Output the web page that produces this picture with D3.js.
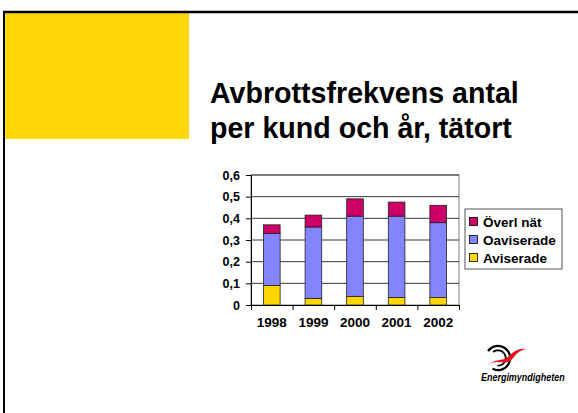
<!DOCTYPE html>
<html>
<head>
<meta charset="utf-8">
<script src="https://cdn.jsdelivr.net/npm/d3@7"></script>
<style>
  html, body { margin: 0; padding: 0; background: #fff; }
  svg { display: block; font-family: "Liberation Sans", Arial, sans-serif; }
</style>
</head>
<body>
<div id="chart"></div>
<script>
// data
const years = ["1998", "1999", "2000", "2001", "2002"];
const aviserade = [0.09, 0.03, 0.04, 0.035, 0.035];
const oaviserade = [0.24, 0.33, 0.37, 0.375, 0.345];
const overlNat = [0.04, 0.055, 0.08, 0.065, 0.08];
const seriesNames = ["Aviserade", "Oaviserade", "Överl nät"];
const seriesColors = ["#FFD700", "#8484FF", "#CC0066"];
const yTicks = [0, 0.1, 0.2, 0.3, 0.4, 0.5, 0.6];
const yTickLabels = ["0", "0,1", "0,2", "0,3", "0,4", "0,5", "0,6"];
const titleLines = ["Avbrottsfrekvens antal", "per kund och år, tätort"];

const W = 578, H = 413;
const plot = {left: 251, right: 459, top: 175, bottom: 305};

const svg = d3.select("#chart").append("svg")
  .attr("width", W)
  .attr("height", H);

// slide frame
svg.append("rect")
  .attr("x", 5).attr("y", 13)
  .attr("width", 184).attr("height", 126)
  .attr("fill", "#FFD80B");

svg.append("line")
  .attr("x1", 3).attr("x2", W)
  .attr("y1", 12).attr("y2", 12)
  .attr("stroke", "#000").attr("stroke-width", 2.5);
svg.append("line")
  .attr("x1", 4).attr("x2", 4)
  .attr("y1", 11).attr("y2", H)
  .attr("stroke", "#000").attr("stroke-width", 2);

// title
svg.append("g")
  .selectAll("text")
  .data(titleLines)
  .enter().append("text")
    .attr("x", 210)
    .attr("y", (d, i) => 103 + i * 35)
    .attr("font-size", 28.6)
    .attr("font-weight", "bold")
    .attr("fill", "#000")
    .text(d => d);

// scales
const x = d3.scaleBand()
  .domain(years)
  .range([plot.left, plot.right])
  .paddingInner(0.6)
  .paddingOuter(0.3);

const y = d3.scaleLinear()
  .domain([0, 0.6])
  .range([plot.bottom, plot.top]);

const rows = years.map((yr, i) => ({
  year: yr,
  Aviserade: aviserade[i],
  Oaviserade: oaviserade[i],
  "Överl nät": overlNat[i]
}));
const stacked = d3.stack().keys(seriesNames)(rows);

// plot area border + gridlines
svg.append("rect")
  .attr("x", plot.left).attr("y", plot.top)
  .attr("width", plot.right - plot.left)
  .attr("height", plot.bottom - plot.top)
  .attr("fill", "none")
  .attr("stroke", "#808080");

svg.append("g")
  .selectAll("line")
  .data(yTicks.slice(1))
  .enter().append("line")
    .attr("x1", plot.left).attr("x2", plot.right)
    .attr("y1", d => y(d)).attr("y2", d => y(d))
    .attr("stroke", "#3a3a3a")
    .attr("stroke-width", 1);

// bars
svg.append("g")
  .selectAll("g")
  .data(stacked)
  .enter().append("g")
    .attr("fill", (d, i) => seriesColors[i])
  .selectAll("rect")
  .data(d => d)
  .enter().append("rect")
    .attr("x", d => x(d.data.year))
    .attr("y", d => y(d[1]))
    .attr("width", x.bandwidth())
    .attr("height", d => y(d[0]) - y(d[1]))
    .attr("stroke", "#222")
    .attr("stroke-width", 0.8);

// y axis
const yAxis = d3.axisLeft(y)
  .tickValues(yTicks)
  .tickFormat((d, i) => yTickLabels[i])
  .tickSize(5)
  .tickPadding(6);

svg.append("g")
  .attr("transform", `translate(${plot.left},0)`)
  .call(yAxis)
  .call(g => g.selectAll("text")
    .attr("font-size", 12.5)
    .attr("font-weight", "bold")
    .attr("font-family", "Liberation Sans, Arial, sans-serif")
    .attr("fill", "#000"));

// x axis: labels, plus ticks at category boundaries
svg.append("g")
  .attr("transform", `translate(0,${plot.bottom})`)
  .call(d3.axisBottom(x).tickSize(0).tickPadding(12))
  .call(g => g.select(".domain").remove())
  .call(g => g.selectAll("text")
    .attr("font-size", 13.5)
    .attr("font-weight", "bold")
    .attr("font-family", "Liberation Sans, Arial, sans-serif")
    .attr("fill", "#000"));

const xb = d3.scaleLinear().domain([0, years.length]).range([plot.left, plot.right]);
svg.append("g")
  .attr("transform", `translate(0,${plot.bottom})`)
  .call(d3.axisBottom(xb)
    .tickValues(d3.range(years.length + 1))
    .tickFormat("")
    .tickSize(5)
    .tickSizeOuter(0));

// legend
const legend = svg.append("g").attr("transform", "translate(465,209)");
legend.append("rect")
  .attr("width", 97).attr("height", 60)
  .attr("fill", "#fff")
  .attr("stroke", "#555");

const legendOrder = [2, 1, 0];
const items = legend.selectAll("g.item")
  .data(legendOrder)
  .enter().append("g")
    .attr("class", "item")
    .attr("transform", (d, i) => `translate(0,${13 + i * 18})`);

items.append("rect")
  .attr("x", 4.5).attr("y", -4.5)
  .attr("width", 8).attr("height", 8)
  .attr("fill", d => seriesColors[d])
  .attr("stroke", "#000")
  .attr("stroke-width", 0.8);

items.append("text")
  .attr("x", 18)
  .attr("y", 5)
  .attr("font-size", 13.5)
  .attr("font-weight", "bold")
  .text(d => seriesNames[d]);

// logo
const logo = svg.append("g");
logo.append("path")
  .attr("d", d3.arc()({innerRadius: 11, outerRadius: 13.2, startAngle: 0.6, endAngle: 2 * Math.PI - 1.1}))
  .attr("transform", "translate(498,358) rotate(-90)")
  .attr("fill", "#000");
logo.append("path")
  .attr("d", d3.arc()({innerRadius: 6.8, outerRadius: 8.6, startAngle: 0.9, endAngle: 2 * Math.PI - 1.5}))
  .attr("transform", "translate(498,358) rotate(-90)")
  .attr("fill", "#000");
logo.append("path")
  .attr("d", "M488,366 C497,356 505,369 514,357 C518,352 521,350 526,349 C519,348 514,351 509,356 C501,363 496,357 488,366 Z")
  .attr("fill", "#E8141C");

// condensed italic wordmark
logo.append("text")
  .attr("transform", "translate(481,381) scale(0.78,1)")
  .attr("font-size", 11.5)
  .attr("font-weight", "bold")
  .attr("font-style", "italic")
  .text("Energimyndigheten");
</script>
</body>
</html>
